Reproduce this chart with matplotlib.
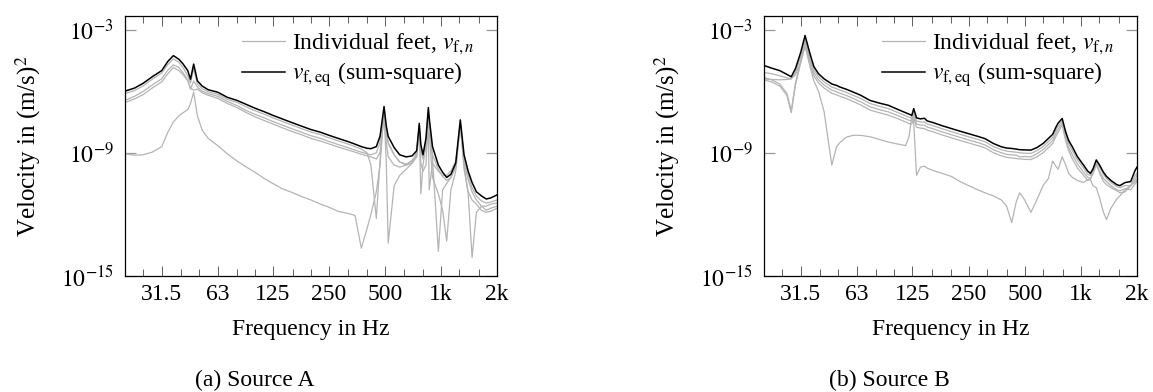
import numpy as np
import matplotlib
matplotlib.use("Agg")
import matplotlib.pyplot as plt
from matplotlib.ticker import FixedLocator, FixedFormatter, NullLocator, NullFormatter

plt.rcParams['font.family'] = ['Liberation Serif', 'DejaVu Serif']
plt.rcParams['mathtext.fontset'] = 'stix'
plt.rcParams['font.size'] = 17

# ---------------- Data: Source A (log10 of velocity^2) ----------------
freq_a = [20, 22.5, 25, 28, 31.5, 34, 36.4, 39, 41, 43.5, 45, 46.8, 49, 52, 56, 63, 71, 80, 90, 100,
          112, 125, 140, 160, 180, 200, 225, 250, 280, 315, 345, 373, 400, 420, 449, 470, 494, 508,
          520, 560, 600, 650, 700, 740, 764, 779, 800, 830, 855, 864, 900, 968, 1020, 1073, 1130,
          1200, 1270, 1330, 1400, 1469, 1550, 1650, 1750, 1850, 2000]
a_sum = [-6.0, -5.85, -5.62, -5.3, -5.0, -4.55, -4.27, -4.45, -4.67, -5.0, -5.42, -4.68, -5.5, -5.75, -5.93,
         -6.05, -6.3, -6.45, -6.65, -6.83, -7.0, -7.18, -7.35, -7.55, -7.72, -7.87, -8.0, -8.15, -8.3,
         -8.45, -8.58, -8.7, -8.78, -8.8, -8.7, -8.2, -6.75, -7.7, -8.2, -8.75, -9.1, -9.2, -9.15, -8.9,
         -7.57, -8.6, -9.1, -8.3, -6.8, -7.3, -8.7, -9.6, -9.95, -10.2, -10.05, -9.5, -7.4, -9.1, -9.9,
         -10.45, -10.9, -11.1, -11.25, -11.2, -11.05]
a_foot1 = [-6.12, -5.97, -5.75, -5.42, -5.12, -4.7, -4.42, -4.6, -4.85, -5.25, -5.6, -4.9, -5.65, -5.88, -6.03,
           -6.15, -6.4, -6.55, -6.77, -6.95, -7.12, -7.3, -7.47, -7.67, -7.84, -7.99, -8.12, -8.27, -8.42,
           -8.57, -8.7, -8.82, -9.0, -9.6, -12.2, -9.4, -6.85, -8.0, -8.5, -9.1, -9.45, -9.6, -9.5, -9.1,
           -7.65, -8.9, -9.3, -8.5, -6.9, -7.6, -9.3, -13.8, -10.8, -10.5, -10.2, -9.7, -7.5, -9.3, -10.1,
           -10.7, -11.1, -11.35, -11.45, -11.4, -11.3]
a_foot2 = [-6.45, -6.25, -6.02, -5.7, -5.4, -4.97, -4.72, -4.85, -5.1, -5.45, -5.9, -5.5, -5.8, -6.0, -6.12,
           -6.25, -6.5, -6.7, -6.95, -7.13, -7.3, -7.48, -7.65, -7.85, -8.02, -8.17, -8.3, -8.45, -8.6,
           -8.75, -8.87, -8.97, -9.05, -9.1, -9.0, -8.5, -6.9, -8.0, -8.55, -9.1, -9.45, -9.55, -9.4, -9.0,
           -7.7, -11.0, -9.6, -8.6, -7.1, -7.7, -9.1, -9.8, -10.15, -10.35, -10.2, -9.7, -7.55, -9.6, -11.0,
           -14.1, -11.9, -11.6, -11.6, -11.5, -11.45]
a_foot3 = [-6.55, -6.38, -6.17, -5.85, -5.55, -5.15, -4.85, -5.0, -5.2, -5.5, -5.85, -5.95, -5.9, -6.08, -6.2,
           -6.35, -6.6, -6.8, -7.05, -7.25, -7.43, -7.6, -7.78, -7.98, -8.14, -8.3, -8.43, -8.57, -8.72,
           -8.86, -8.97, -9.07, -9.15, -9.2, -9.3, -9.0, -7.2, -8.5, -9.2, -9.6, -9.7, -9.6, -9.35, -9.2,
           -7.9, -8.8, -9.0, -8.8, -8.0, -10.8, -9.5, -9.9, -10.1, -10.1, -9.9, -9.4, -7.7, -9.5, -10.3,
           -10.9, -11.3, -11.6, -11.8, -11.7, -11.6]
a_foot4 = [-9.05, -9.12, -9.1, -8.97, -8.7, -8.0, -7.5, -7.2, -7.05, -6.9, -6.6, -6.05, -7.2, -7.9, -8.3,
           -8.65, -9.05, -9.4, -9.7, -9.95, -10.25, -10.5, -10.75, -10.95, -11.15, -11.3, -11.5, -11.65,
           -11.85, -11.95, -12.05, -13.65, -12.7, -12.0, -10.9, -9.6, -7.0, -9.5, -13.4, -10.6, -10.1, -9.8,
           -9.5, -9.2, -7.8, -9.5, -9.9, -9.6, -7.2, -8.0, -10.2, -11.0, -11.8, -13.3, -10.8, -9.9, -7.6,
           -9.8, -10.9, -11.3, -11.5, -11.8, -11.9, -11.85, -11.7]

# ---------------- Data: Source B (log10 of velocity^2) ----------------
freq_b = [20, 22, 24.3, 26.5, 28, 29.5, 31.5, 33.2, 35.3, 37, 39.2, 42, 46.2, 49, 51.1, 55, 60, 66, 74, 83,
          93, 105, 115, 120, 124, 127, 131.5, 138, 145, 150, 160, 180, 202, 225, 250, 280, 306, 340, 375,
          400, 426, 450, 470, 500, 540, 580, 627, 670, 706, 740, 756, 794, 830, 860, 900, 960, 1034, 1090,
          1125, 1160, 1210, 1260, 1322, 1372, 1450, 1557, 1620, 1726, 1850, 1955, 2000]
b_sum = [-4.75, -4.88, -5.0, -5.18, -5.3, -4.9, -4.1, -3.29, -4.18, -4.8, -5.15, -5.4, -5.65, -5.72, -5.8,
         -5.9, -6.04, -6.2, -6.45, -6.58, -6.69, -6.9, -7.05, -7.12, -7.18, -6.85, -7.3, -7.35, -7.32, -7.45,
         -7.52, -7.68, -7.82, -7.95, -8.07, -8.2, -8.31, -8.55, -8.71, -8.77, -8.79, -8.82, -8.85, -8.86,
         -8.87, -8.75, -8.55, -8.3, -8.1, -7.7, -7.55, -7.33, -8.0, -8.4, -8.71, -9.2, -9.6, -9.9, -10.0,
         -9.8, -9.35, -9.6, -9.95, -10.15, -10.35, -10.55, -10.6, -10.45, -10.4, -9.85, -9.7]
b_foot1 = [-5.09, -5.15, -5.25, -5.35, -5.4, -5.1, -4.3, -3.45, -4.4, -4.95, -5.3, -5.55, -5.8, -5.88, -5.95,
           -6.05, -6.2, -6.36, -6.6, -6.73, -6.85, -7.05, -7.2, -7.27, -7.3, -7.05, -7.45, -7.5, -7.5, -7.6,
           -7.67, -7.83, -7.97, -8.1, -8.22, -8.35, -8.46, -8.7, -8.85, -8.92, -8.95, -8.97, -9.0, -9.02,
           -9.03, -8.9, -8.7, -8.45, -8.25, -7.85, -7.7, -7.45, -8.15, -8.55, -8.9, -9.35, -9.75, -10.05,
           -10.1, -9.9, -9.45, -9.7, -10.05, -10.25, -10.45, -10.65, -10.7, -10.6, -10.6, -10.1, -10.0]
b_foot2 = [-5.33, -5.45, -5.65, -6.1, -6.95, -5.6, -4.5, -3.6, -4.55, -5.1, -5.45, -5.7, -5.95, -6.03, -6.1,
           -6.2, -6.35, -6.52, -6.76, -6.9, -7.01, -7.2, -7.35, -7.42, -7.45, -7.2, -7.6, -7.65, -7.66, -7.75,
           -7.82, -7.98, -8.12, -8.25, -8.38, -8.5, -8.62, -8.85, -9.0, -9.08, -9.1, -9.12, -9.2, -9.18,
           -9.2, -9.05, -8.85, -8.6, -8.4, -8.0, -7.85, -7.55, -8.3, -8.75, -9.1, -9.55, -9.95, -10.2,
           -10.25, -10.05, -9.6, -9.9, -10.25, -10.4, -10.6, -10.8, -10.85, -10.75, -10.8, -10.5, -10.4]
b_foot3 = [-5.41, -5.43, -5.45, -5.43, -5.4, -5.2, -4.6, -3.75, -4.7, -5.25, -5.6, -5.85, -6.1, -6.18, -6.25,
           -6.35, -6.5, -6.67, -6.92, -7.05, -7.17, -7.35, -7.5, -7.58, -7.6, -7.35, -7.75, -7.8, -7.82, -7.9,
           -7.97, -8.13, -8.27, -8.4, -8.52, -8.65, -8.76, -9.0, -9.15, -9.22, -9.25, -9.28, -9.3, -9.32,
           -9.33, -9.2, -9.0, -8.75, -8.55, -8.15, -8.0, -7.65, -8.45, -8.9, -9.3, -9.75, -10.1, -10.35,
           -10.3, -9.9, -9.5, -10.0, -10.4, -10.55, -10.7, -10.85, -10.95, -10.9, -10.6, -10.3, -10.1]
b_foot4 = [-5.45, -5.55, -5.75, -6.2, -7.05, -5.7, -4.6, -3.8, -4.8, -5.5, -6.0, -7.0, -9.6, -8.7, -8.5,
           -8.25, -8.15, -8.15, -8.22, -8.35, -8.48, -8.58, -8.65, -8.2, -7.2, -7.5, -10.1, -9.7, -9.65,
           -9.75, -9.85, -10.0, -10.15, -10.4, -10.6, -10.8, -10.95, -11.1, -11.3, -11.6, -12.4, -11.4,
           -10.95, -11.3, -11.9, -11.3, -10.6, -10.25, -9.4, -9.7, -9.8, -9.2, -9.6, -10.0, -10.2, -10.35,
           -10.45, -10.3, -10.3, -10.6, -10.7, -11.2, -11.9, -12.25, -11.7, -11.25, -11.1, -10.8, -10.6,
           -10.4, -10.3]

x_major = [31.5, 63, 125, 250, 500, 1000, 2000]
x_major_labels = ['31.5', '63', '125', '250', '500', '1k', '2k']
x_minor = [25, 40, 50, 80, 100, 160, 200, 315, 400, 630, 800, 1250, 1600]
y_major = [1e-15, 1e-9, 1e-3]
y_major_labels = [r'$10^{-15}$', r'$10^{-9}$', r'$10^{-3}$']

panels = [
    ("(a) Source A", freq_a, a_sum, [a_foot1, a_foot2, a_foot3, a_foot4]),
    ("(b) Source B", freq_b, b_sum, [b_foot1, b_foot2, b_foot3, b_foot4]),
]

W, H = 1153, 392
fig = plt.figure(figsize=(W / 100, H / 100), dpi=100)
axes_px = [(125, 497), (764, 1137)]
top_px, bot_px = 16, 276
caption_x = [255, 889]
gray = '#b4b4b4'

for (caption, freq, vsum, feet), (x0, x1), cx in zip(panels, axes_px, caption_x):
    ax = fig.add_axes([x0 / W, 1 - bot_px / H, (x1 - x0) / W, (bot_px - top_px) / H])
    f = np.array(freq)
    for i, foot in enumerate(feet):
        ax.plot(f, 10 ** np.array(foot), color=gray, lw=0.9,
                label=r'Individual feet, $v_{\mathrm{f},n}$' if i == 0 else None)
    ax.plot(f, 10 ** np.array(vsum), color='black', lw=1.1, label=r'$v_{\mathrm{f,eq}}$ (sum-square)')
    ax.set_xscale('log')
    ax.set_yscale('log')
    ax.set_xlim(20, 2000)
    ax.set_ylim(1e-15, 10 ** -2.34)
    ax.xaxis.set_major_locator(FixedLocator(x_major))
    ax.xaxis.set_major_formatter(FixedFormatter(x_major_labels))
    ax.xaxis.set_minor_locator(FixedLocator(x_minor))
    ax.xaxis.set_minor_formatter(NullFormatter())
    ax.yaxis.set_major_locator(FixedLocator(y_major))
    ax.yaxis.set_major_formatter(FixedFormatter(y_major_labels))
    ax.yaxis.set_minor_locator(NullLocator())
    ax.yaxis.set_minor_formatter(NullFormatter())
    ax.tick_params(axis='x', which='major', direction='in', top=True, bottom=True, length=7.5,
                   width=0.6, color='#444444', pad=6, labelsize=17)
    ax.tick_params(axis='x', which='minor', direction='in', top=True, bottom=True, length=4.8,
                   width=0.6, color='#444444')
    ax.tick_params(axis='y', which='major', direction='in', left=True, right=True, length=8,
                   width=0.9, color='#999999', pad=8, labelsize=17)
    for s in ax.spines.values():
        s.set_linewidth(0.9)
    ax.set_xlabel('Frequency in Hz', fontsize=17, labelpad=10)
    ax.set_ylabel(r'Velocity in (m/s)$^2$', fontsize=18, labelpad=13)
    ax.legend(loc='upper right', bbox_to_anchor=(1 - 13 / 372, 1 - 6 / 260), frameon=False,
              fontsize=17, handlelength=1.8, handletextpad=0.3, labelspacing=0.15,
              borderpad=0.2, borderaxespad=0.2)
    fig.text(cx / W, 1 - 380 / H, caption, ha='center', va='center', fontsize=17)

fig.savefig('out.png', dpi=100)
